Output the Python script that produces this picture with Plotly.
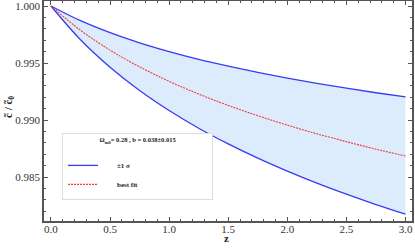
import plotly.graph_objects as go

z = [0.0, 0.25, 0.5, 0.75, 1.0, 1.25, 1.5, 1.75, 2.0, 2.25, 2.5, 2.75, 3.0]
upper = [1.0, 0.99871, 0.99766, 0.99677, 0.99600, 0.99532, 0.99472, 0.99417, 0.99367, 0.99321, 0.99279, 0.99239, 0.99202]
best = [1.0, 0.99787, 0.99613, 0.99466, 0.99339, 0.99228, 0.99128, 0.99038, 0.98955, 0.98879, 0.98810, 0.98744, 0.98684]
lower = [1.0, 0.99704, 0.99463, 0.99259, 0.99083, 0.98928, 0.98790, 0.98665, 0.98551, 0.98446, 0.98349, 0.98258, 0.98174]

legend_title = "Ω<sub>m0</sub>= 0.28 , b = 0.038±0.015"
label_sigma = "±1 σ"
label_best = "best fit"
x_title = "z"
y_title = "c̃ / c̃<sub>0</sub>"

BLUE = "#3a3af5"
RED = "#f03c3c"
FILL = "rgb(220,236,252)"
SERIF = "Liberation Serif, Times New Roman, serif"

NB = "&nbsp;"
pad_title = NB * 21 + legend_title + NB * 21 + "<br>"
pad_item = NB * 8

fig = go.Figure()
fig.add_trace(go.Scatter(x=z, y=upper, mode="lines", line=dict(color=BLUE, width=1.3, shape="spline"),
                         name=pad_item + label_sigma, showlegend=True, legendgroup="a"))
fig.add_trace(go.Scatter(x=z, y=lower, mode="lines", line=dict(color=BLUE, width=1.3, shape="spline"),
                         fill="tonexty", fillcolor=FILL, showlegend=False, hoverinfo="skip"))
fig.add_trace(go.Scatter(x=z, y=best, mode="lines", line=dict(color=RED, width=1.1, dash="2px,1px", shape="spline"),
                         name=pad_item + label_best, showlegend=True, legendgroup="b"))

axis_common = dict(
    showline=True, linecolor="#555555", linewidth=1.5, mirror="allticks",
    ticks="inside", ticklen=4, tickcolor="#555555", tickwidth=1,
    showgrid=False, zeroline=False, automargin=False, ticklabeloverflow="allow",
    tickfont=dict(family=SERIF, size=11, color="#333333"),
)

fig.update_xaxes(range=[-0.059, 3.055], tickvals=[0, 0.5, 1.0, 1.5, 2.0, 2.5, 3.0],
                 ticktext=["0.0", "0.5", "1.0", "1.5", "2.0", "2.5", "3.0"],
                 minor=dict(dtick=0.1, tick0=0, ticks="inside", ticklen=2, tickcolor="#555555"),
                 ticklabelstandoff=-3,
                 **axis_common)
fig.update_yaxes(range=[0.98114, 1.000439], tickvals=[0.985, 0.990, 0.995, 1.000],
                 ticktext=["0.985", "0.990", "0.995", "1.000"],
                 minor=dict(dtick=0.001, tick0=0.98, ticks="inside", ticklen=2, tickcolor="#555555"),
                 **axis_common)

fig.update_layout(
    width=415, height=251,
    margin=dict(l=44, r=3, t=1, b=30),
    paper_bgcolor="white", plot_bgcolor="white",
    legend=dict(
        x=0.049, y=0.4, xanchor="left", yanchor="top",
        bgcolor="white", bordercolor="#dddddd", borderwidth=1,
        font=dict(family=SERIF, size=7, color="#222222", weight="bold"),
        title=dict(text=pad_title, side="top center", font=dict(family=SERIF, size=6.5, color="#222222")),
        itemwidth=30, tracegroupgap=13, traceorder="normal",
    ),
    annotations=[
        dict(text="<b>" + x_title + "</b>", xref="paper", yref="paper", x=(226 - 44) / 368, y=-(238 - 221) / 220,
             showarrow=False, font=dict(family=SERIF, size=11, color="#222222"), xanchor="center", yanchor="middle"),
        dict(text="<b>" + y_title + "</b>", xref="paper", yref="paper", x=(9 - 44) / 368, y=1 - (107 - 1) / 220,
             showarrow=False, textangle=-90, font=dict(family=SERIF, size=11, color="#222222"),
             xanchor="center", yanchor="middle"),
    ],
)

fig.write_html("out.html", config={"displayModeBar": False},
               post_script="document.body.style.margin='0px';")
